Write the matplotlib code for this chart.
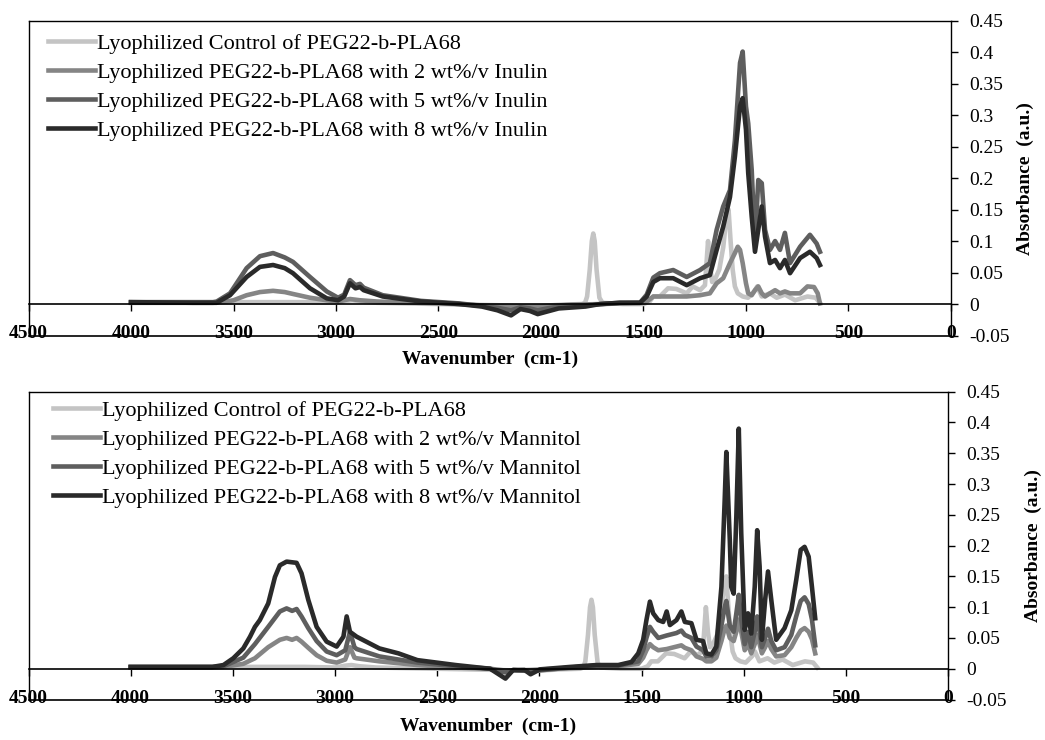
import matplotlib
matplotlib.use("Agg")
import matplotlib.pyplot as plt

plt.rcParams['font.family'] = ['Liberation Serif', 'DejaVu Serif']

# control sample (same in both panels)
ctrl_wn = [4000, 3700, 3600, 3450, 3300, 3150, 3000, 2950, 2920, 2880,
           2800, 2500, 2200, 2100, 2000, 1900, 1800, 1785, 1775, 1762,
           1752, 1745, 1738, 1729, 1715, 1700, 1600, 1500, 1470, 1452,
           1420, 1380, 1340, 1289, 1260, 1224, 1200, 1185, 1175, 1165,
           1150, 1130, 1111, 1095, 1085, 1075, 1065, 1054, 1040, 1016,
           990, 960, 945, 923, 883, 850, 810, 760, 700, 660, 640]
ctrl_abs = [0.002, 0.002, 0.002, 0.003, 0.003, 0.003, 0.002, 0.005, 0.006, 0.004,
            0.002, 0.0, -0.002, -0.003, -0.003, -0.001, 0.0, 0.002, 0.012, 0.055,
            0.1, 0.112, 0.1, 0.055, 0.01, 0.002, 0.0, 0.0, 0.004, 0.012,
            0.012, 0.025, 0.024, 0.017, 0.028, 0.022, 0.03, 0.1, 0.06, 0.035,
            0.04, 0.055, 0.09, 0.14, 0.15, 0.1, 0.055, 0.028, 0.017, 0.012,
            0.01, 0.02, 0.028, 0.012, 0.017, 0.01, 0.015, 0.006, 0.012, 0.01, 0.002]

# inulin series
inu2_wn = [4000, 3600, 3550, 3500, 3436, 3371, 3307, 3250, 3210, 3127,
           3045, 2990, 2932, 2883, 2800, 2600, 2400, 2250, 2150, 2050,
           1950, 1850, 1700, 1615, 1500, 1484, 1452, 1420, 1355, 1289,
           1224, 1176, 1143, 1111, 1078, 1054, 1040, 1029, 1016, 1000,
           989, 972, 956, 940, 923, 907, 883, 858, 834, 810,
           785, 736, 700, 668, 650, 639]
inu2_abs = [0.002, 0.002, 0.003, 0.006, 0.014, 0.019, 0.021, 0.019, 0.016, 0.01,
            0.006, 0.004, 0.008, 0.006, 0.004, 0.002, 0.0, -0.003, -0.004, -0.004,
            -0.003, -0.001, 0.0, 0.001, 0.002, 0.004, 0.012, 0.012, 0.012, 0.012,
            0.014, 0.017, 0.033, 0.041, 0.065, 0.081, 0.091, 0.086, 0.065, 0.033,
            0.017, 0.014, 0.022, 0.028, 0.017, 0.012, 0.017, 0.022, 0.017, 0.02,
            0.017, 0.017, 0.028, 0.027, 0.017, 0.001]

inu5_wn = [4000, 3600, 3582, 3517, 3436, 3371, 3307, 3250, 3210, 3127,
           3045, 2990, 2960, 2932, 2905, 2883, 2865, 2772, 2585, 2400,
           2288, 2212, 2146, 2100, 2054, 2016, 1971, 1914, 1783, 1700,
           1615, 1517, 1484, 1452, 1420, 1355, 1289, 1224, 1176, 1143,
           1111, 1078, 1054, 1029, 1016, 1000, 989, 972, 956, 940,
           923, 907, 883, 858, 834, 810, 785, 736, 688, 655, 639]
inu5_abs = [0.003, 0.003, 0.004, 0.017, 0.057, 0.076, 0.081, 0.074, 0.067, 0.043,
            0.02, 0.01, 0.015, 0.038, 0.03, 0.032, 0.026, 0.014, 0.005, 0.001,
            -0.003, -0.006, -0.01, -0.005, -0.007, -0.01, -0.007, -0.004, -0.002, 0.0,
            0.002, 0.002, 0.015, 0.042, 0.049, 0.054, 0.043, 0.054, 0.065, 0.118,
            0.155, 0.181, 0.26, 0.383, 0.401, 0.314, 0.287, 0.213, 0.096, 0.197,
            0.192, 0.118, 0.086, 0.1, 0.086, 0.113, 0.065, 0.091, 0.11, 0.096, 0.083]

inu8_wn = [4000, 3700, 3582, 3517, 3436, 3371, 3307, 3250, 3210, 3127,
           3045, 2990, 2960, 2932, 2905, 2883, 2865, 2772, 2585, 2400,
           2288, 2212, 2146, 2100, 2054, 2016, 1971, 1914, 1783, 1712,
           1615, 1517, 1484, 1452, 1420, 1355, 1289, 1224, 1176, 1143,
           1111, 1078, 1054, 1029, 1016, 1000, 989, 972, 956, 940,
           923, 907, 883, 858, 834, 810, 785, 736, 688, 655, 639]
inu8_abs = [0.003, 0.002, 0.002, 0.014, 0.043, 0.059, 0.062, 0.057, 0.049, 0.025,
            0.009, 0.006, 0.012, 0.033, 0.025, 0.027, 0.022, 0.012, 0.004, 0.0,
            -0.004, -0.01, -0.018, -0.008, -0.011, -0.016, -0.012, -0.007, -0.004, 0.0,
            0.002, 0.002, 0.012, 0.035, 0.041, 0.041, 0.03, 0.041, 0.046, 0.086,
            0.123, 0.17, 0.234, 0.314, 0.327, 0.277, 0.208, 0.139, 0.083, 0.118,
            0.155, 0.107, 0.065, 0.07, 0.057, 0.07, 0.049, 0.073, 0.083, 0.073, 0.062]

# mannitol series
man2_wn = [4000, 3600, 3546, 3449, 3392, 3327, 3270, 3237, 3210, 3188,
           3164, 3131, 3090, 3041, 2992, 2950, 2927, 2905, 2894, 2783,
           2597, 2410, 2241, 2166, 2043, 1847, 1720, 1614, 1516, 1492,
           1476, 1459, 1443, 1418, 1377, 1329, 1305, 1288, 1256, 1231,
           1199, 1183, 1158, 1134, 1109, 1093, 1085, 1068, 1049, 1036,
           1024, 1012, 995, 979, 963, 946, 934, 922, 911, 895,
           881, 865, 841, 800, 767, 743, 721, 702, 682, 666, 650]
man2_abs = [0.002, 0.002, 0.003, 0.008, 0.017, 0.035, 0.047, 0.05, 0.047, 0.05,
            0.044, 0.034, 0.022, 0.013, 0.01, 0.015, 0.035, 0.018, 0.017, 0.012,
            0.006, 0.002, 0.0, -0.003, -0.002, 0.001, 0.003, 0.004, 0.008, 0.018,
            0.03, 0.04, 0.035, 0.03, 0.032, 0.036, 0.038, 0.034, 0.03, 0.02,
            0.016, 0.012, 0.012, 0.018, 0.045, 0.065, 0.07, 0.05, 0.045, 0.06,
            0.08, 0.06, 0.03, 0.04, 0.025, 0.04, 0.055, 0.04, 0.025, 0.035,
            0.045, 0.032, 0.02, 0.022, 0.035, 0.05, 0.062, 0.066, 0.06, 0.048, 0.025]

man5_wn = [4000, 3600, 3546, 3449, 3392, 3327, 3270, 3237, 3210, 3188,
           3164, 3131, 3090, 3041, 2992, 2950, 2927, 2905, 2894, 2783,
           2597, 2410, 2241, 2166, 2128, 2043, 1847, 1720, 1614, 1516,
           1492, 1476, 1459, 1443, 1418, 1377, 1329, 1305, 1288, 1256,
           1231, 1199, 1183, 1158, 1134, 1109, 1093, 1085, 1068, 1049,
           1036, 1024, 1012, 995, 979, 963, 946, 934, 922, 911,
           895, 881, 865, 841, 800, 767, 743, 721, 702, 682, 666, 650]
man5_abs = [0.003, 0.003, 0.004, 0.018, 0.04, 0.068, 0.093, 0.098, 0.094, 0.097,
            0.085, 0.066, 0.045, 0.028, 0.022, 0.03, 0.06, 0.035, 0.032, 0.02,
            0.01, 0.004, 0.0, -0.006, -0.002, -0.004, 0.002, 0.005, 0.005, 0.012,
            0.03, 0.05, 0.068, 0.06, 0.05, 0.054, 0.058, 0.062, 0.055, 0.05,
            0.036, 0.03, 0.02, 0.02, 0.03, 0.07, 0.1, 0.11, 0.07, 0.06,
            0.09, 0.12, 0.08, 0.04, 0.06, 0.035, 0.06, 0.085, 0.06, 0.035,
            0.05, 0.065, 0.045, 0.03, 0.035, 0.055, 0.085, 0.11, 0.116, 0.105, 0.08, 0.038]

man8_wn = [4000, 3600, 3546, 3498, 3449, 3416, 3392, 3368, 3327, 3294,
           3270, 3237, 3188, 3164, 3131, 3090, 3041, 2992, 2959, 2943,
           2927, 2894, 2783, 2690, 2597, 2410, 2241, 2166, 2128, 2072,
           2043, 1997, 1847, 1720, 1614, 1549, 1516, 1492, 1476, 1459,
           1443, 1418, 1394, 1377, 1361, 1329, 1305, 1288, 1256, 1231,
           1199, 1183, 1158, 1134, 1109, 1093, 1085, 1068, 1061, 1049,
           1036, 1024, 1012, 995, 979, 963, 946, 934, 922, 911,
           895, 881, 865, 849, 841, 800, 767, 743, 721, 702, 682, 666, 650]
man8_abs = [0.003, 0.003, 0.006, 0.017, 0.033, 0.052, 0.068, 0.079, 0.106, 0.149,
            0.168, 0.174, 0.172, 0.155, 0.112, 0.068, 0.044, 0.036, 0.052, 0.085,
            0.06, 0.052, 0.033, 0.025, 0.014, 0.006, 0.0, -0.016, -0.002, -0.002,
            -0.009, -0.001, 0.003, 0.006, 0.006, 0.011, 0.025, 0.047, 0.079, 0.109,
            0.09, 0.079, 0.076, 0.093, 0.071, 0.079, 0.093, 0.076, 0.074, 0.047,
            0.045, 0.025, 0.023, 0.036, 0.133, 0.274, 0.352, 0.209, 0.133, 0.122,
            0.247, 0.39, 0.22, 0.063, 0.09, 0.057, 0.133, 0.225, 0.166, 0.047,
            0.112, 0.158, 0.112, 0.068, 0.047, 0.066, 0.095, 0.144, 0.193, 0.198, 0.182, 0.133, 0.082]

inulin_labels = ["Lyophilized Control of PEG22-b-PLA68",
                 "Lyophilized PEG22-b-PLA68 with 2 wt%/v Inulin",
                 "Lyophilized PEG22-b-PLA68 with 5 wt%/v Inulin",
                 "Lyophilized PEG22-b-PLA68 with 8 wt%/v Inulin"]
mannitol_labels = ["Lyophilized Control of PEG22-b-PLA68",
                   "Lyophilized PEG22-b-PLA68 with 2 wt%/v Mannitol",
                   "Lyophilized PEG22-b-PLA68 with 5 wt%/v Mannitol",
                   "Lyophilized PEG22-b-PLA68 with 8 wt%/v Mannitol"]
colors = ['#c4c4c4', '#858585', '#5e5e5e', '#2a2a2a']
x_ticks = [4500, 4000, 3500, 3000, 2500, 2000, 1500, 1000, 500, 0]
y_ticks = [-0.05, 0, 0.05, 0.1, 0.15, 0.2, 0.25, 0.3, 0.35, 0.4, 0.45]


def draw_panel(ax, series, labels, leg_xy, xlab_pad, ylab_pad):
    for (wn, ab), lab, c in zip(series, labels, colors):
        ax.plot(wn, ab, color=c, lw=3.3, label=lab, solid_joinstyle='round')
    ax.set_xlim(4500, 0)
    ax.set_ylim(-0.05, 0.45)

    # x axis sits on y = 0, labels pushed down to the frame bottom
    ax.spines['bottom'].set_position(('data', 0))
    ax.spines['bottom'].set_linewidth(1.2)
    ax.axhline(-0.05, color='black', lw=1.2, clip_on=False)
    ax.set_xticks(x_ticks)
    ax.set_xticklabels([str(t) for t in x_ticks], fontsize=14, fontweight='bold')
    ax.tick_params(axis='x', direction='out', length=5, width=1, pad=10)

    ax.yaxis.tick_right()
    ax.yaxis.set_label_position('right')
    ax.set_yticks(y_ticks)
    ax.set_yticklabels(['0' if t == 0 else f"{t:g}" for t in y_ticks], fontsize=14)
    ax.tick_params(axis='y', direction='out', length=5, width=1, pad=8)
    for s in ['top', 'left', 'right']:
        ax.spines[s].set_linewidth(1.0)

    ax.set_xlabel("Wavenumber  (cm-1)", fontsize=14, fontweight='bold', labelpad=xlab_pad)
    ax.set_ylabel("Absorbance  (a.u.)", fontsize=14, fontweight='bold',
                  rotation=90, labelpad=ylab_pad)

    ax.legend(loc='upper left', bbox_to_anchor=leg_xy, bbox_transform=ax.figure.transFigure,
              frameon=False, fontsize=16, handlelength=2.1, handletextpad=0.1,
              labelspacing=0.38, borderpad=0, borderaxespad=0)


fig = plt.figure(figsize=(10.45, 7.4), dpi=100)
ax1 = fig.add_axes([0.0273, 0.5466, 0.8827, 0.4254])
ax2 = fig.add_axes([0.0273, 0.0547, 0.8799, 0.4160])

draw_panel(ax1, [(ctrl_wn, ctrl_abs), (inu2_wn, inu2_abs), (inu5_wn, inu5_abs), (inu8_wn, inu8_abs)],
           inulin_labels, (0.046, 0.955), 6, 5)
draw_panel(ax2, [(ctrl_wn, ctrl_abs), (man2_wn, man2_abs), (man5_wn, man5_abs), (man8_wn, man8_abs)],
           mannitol_labels, (0.051, 0.459), 8, 13)

fig.savefig("out.png", dpi=100)
